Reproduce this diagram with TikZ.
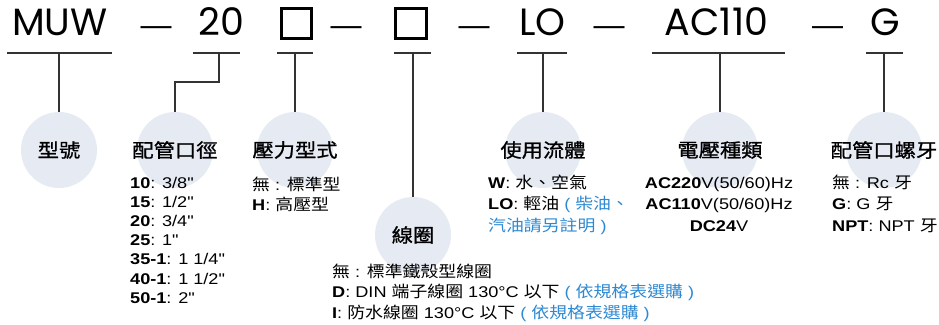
\documentclass[tikz,border=0pt]{standalone}
\usepackage{fontspec}
\newfontfamily\body[FakeStretch=1.17]{Liberation Sans}
\newfontfamily\cjk[FakeStretch=1.12, Scale=1.03]{Noto Sans CJK TC}
\newfontfamily\cjkhead[FakeBold=1, FakeStretch=1.12]{Noto Sans CJK TC}
\newfontfamily\codefont{Poppins}
\newfontfamily\dashfont{Liberation Sans}
\usetikzlibrary{calc}
\definecolor{circlebg}{HTML}{E6EAF3}
\definecolor{noteblue}{HTML}{2E89D2}
\definecolor{linegray}{HTML}{333333}
\newcommand{\note}[1]{\textcolor{noteblue}{#1}}

\begin{document}
\begin{tikzpicture}[x=1pt,y=-1pt,
  code/.style={font=\codefont\fontsize{38}{38}\selectfont, inner sep=0pt, anchor=base},
  dashmark/.style={font=\dashfont\fontsize{31}{31}\selectfont, inner sep=0pt, anchor=base},
  codebox/.style={draw, line width=2.6pt, minimum size=30.5pt, inner sep=0pt},
  bg/.style={circle, fill=circlebg, minimum size=76pt, inner sep=0pt},
  head/.style={font=\cjkhead\fontsize{19}{20}\selectfont, inner sep=0pt},
  item/.style={font=\body\fontsize{15.5}{19}\selectfont, inner sep=0pt, anchor=base west},
  wire/.style={linegray, line width=1.3pt}]
  \useasboundingbox (0,0) rectangle (939,324);
  % 型號代碼
  \node[code] (muw) at (60,35) {MUW};
  \node[dashmark] (d1) at (156,35) {—};
  \node[code] (size) at (221.5,35) {20};
  \node[codebox] (press) at (296.5,23.5) {};
  \node[dashmark] (d2) at (346,35) {—};
  \node[codebox] (coil) at (411,23.5) {};
  \node[dashmark] (d3) at (474,35) {—};
  \node[code] (fluid) at (542.5,35) {LO};
  \node[dashmark] (d4) at (609,35) {—};
  \node[code] (volt) at (716.5,35) {AC110};
  \node[dashmark] (d5) at (827.5,35) {—};
  \node[code] (thread) at (885,35) {G};
  % 底色圓
  \node[bg] (cModel) at (59,150) {};
  \node[bg] (cPipe) at (175,150) {};
  \node[bg] (cPress) at (295,150) {};
  \node[bg] (cCoil) at (413,235) {};
  \node[bg] (cFluid) at (543,150) {};
  \node[bg] (cVolt) at (720,150) {};
  \node[bg] (cThread) at (884,150) {};
  % 底線與連線
  \coordinate (tMuw) at (59,53);
  \coordinate (tSize) at (219,53);
  \coordinate (tPress) at (295,53);
  \coordinate (tCoil) at (413,53);
  \coordinate (tFluid) at (543,53);
  \coordinate (tVolt) at (720,53);
  \coordinate (tThread) at (884,53);
  \draw[wire] (tMuw) ++(-52,0) -- ++(105,0);
  \draw[wire] (tSize) ++(-26,0) -- ++(47,0);
  \draw[wire] (tPress) ++(-18,0) -- ++(36,0);
  \draw[wire] (tCoil) ++(-19,0) -- ++(37,0);
  \draw[wire] (tFluid) ++(-26,0) -- ++(50,0);
  \draw[wire] (tVolt) ++(-68,0) -- ++(133,0);
  \draw[wire] (tThread) ++(-18,0) -- ++(37,0);
  \draw[wire] (tMuw) -- (cModel);
  \draw[wire] (tSize) -- ++(0,29) -| (cPipe);
  \draw[wire] (tPress) -- (cPress);
  \draw[wire] (tCoil) -- (cCoil);
  \draw[wire] (tFluid) -- (cFluid);
  \draw[wire] (tVolt) -- (cVolt);
  \draw[wire] (tThread) -- (cThread);
  % 標題
  \node[head] (hModel) at (cModel) {型號};
  \node[head] (hPipe) at (cPipe) {配管口徑};
  \node[head] (hPress) at (cPress) {壓力型式};
  \node[head] (hCoil) at (cCoil) {線圈};
  \node[head] (hFluid) at (cFluid) {使用流體};
  \node[head] (hVolt) at (cVolt) {電壓種類};
  \node[head] (hThread) at (cThread) {配管口螺牙};
  % 配管口徑
  \foreach \t [count=\i] in {{\textbf{10}: 3/8"}, {\textbf{15}: 1/2"}, {\textbf{20}: 3/4"},
      {\textbf{25}: 1"}, {\textbf{35-1}: 1 1/4"}, {\textbf{40-1}: 1 1/2"}, {\textbf{50-1}: 2"}}
    \node[item] (pipe\i) at (130,{188+19.2*(\i-1)}) {\t};
  % 壓力型式
  \node[item] (press1) at (252,190) {{\cjk 無} : {\cjk 標準型}};
  \node[item] (press2) at (252,210) {\textbf{H}: {\cjk 高壓型}};
  % 線圈
  \node[item] (coil1) at (332,277) {{\cjk 無} : {\cjk 標準鐵殼型線圈}};
  \node[item] (coil2) at (332,297.5) {\textbf{D}: DIN {\cjk 端子線圈} 130°C {\cjk 以下} \note{( {\cjk 依規格表選購} )}};
  \node[item] (coil3) at (332,318) {\textbf{I}: {\cjk 防水線圈} 130°C {\cjk 以下} \note{( {\cjk 依規格表選購} )}};
  % 使用流體
  \node[item] (fluid1) at (488,188) {\textbf{W}: {\cjk 水、空氣}};
  \node[item] (fluid2) at (488,209.5) {\textbf{LO}: {\cjk 輕油} \note{( {\cjk 柴油、}}};
  \node[item] (fluid3) at (488,231) {\note{{\cjk 汽油請另註明} )}};
  % 電壓種類
  \node[item, anchor=base] (volt1) at (719,188) {\textbf{AC220}V(50/60)Hz};
  \node[item, anchor=base] (volt2) at (719,209.5) {\textbf{AC110}V(50/60)Hz};
  \node[item, anchor=base] (volt3) at (719,231) {\textbf{DC24}V};
  % 配管口螺牙
  \node[item] (thread1) at (832,188) {{\cjk 無} : Rc {\cjk 牙}};
  \node[item] (thread2) at (832,209.5) {\textbf{G}: G {\cjk 牙}};
  \node[item] (thread3) at (832,231) {\textbf{NPT}: NPT {\cjk 牙}};
\end{tikzpicture}
\end{document}
